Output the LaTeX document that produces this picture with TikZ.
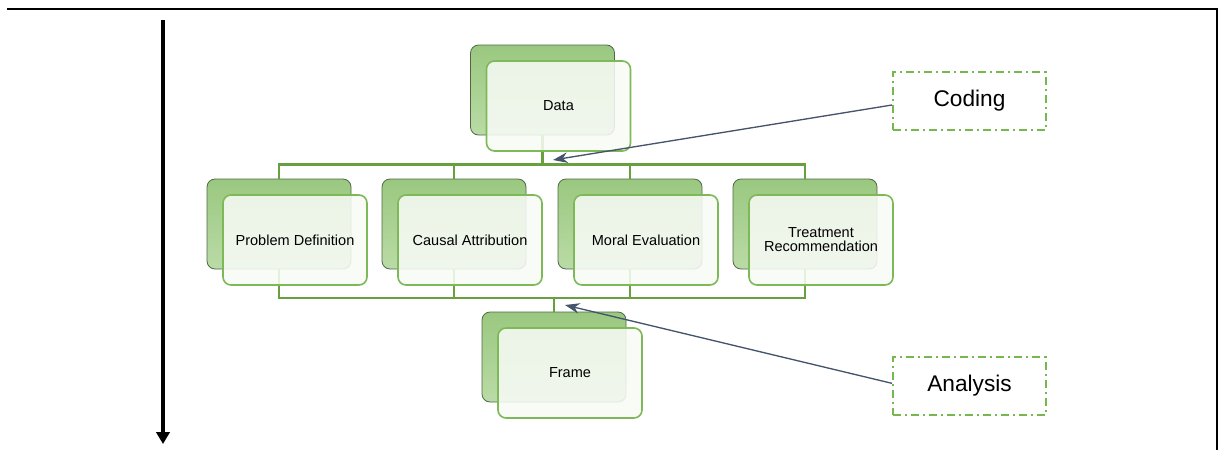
\documentclass[tikz,border=0pt]{standalone}
\usepackage{fontspec}
\setmainfont{Liberation Sans}
\usetikzlibrary{arrows.meta,shadings}
\definecolor{gline}{HTML}{68A040}
\definecolor{gfront}{HTML}{7DB956}
\definecolor{gbackA}{HTML}{9AC880}
\definecolor{gbackB}{HTML}{BADBA6}
\definecolor{gbord}{HTML}{4E6844}
\definecolor{slate}{HTML}{44546A}
\definecolor{gdash}{HTML}{77B74F}
\definecolor{frontfill}{HTML}{F7FAF5}
\tikzset{
  backbox/.style={rectangle, rounded corners=6pt, minimum width=108pt, minimum height=67.5pt,
    draw=gbord, line width=0.6pt, top color=gbackA, bottom color=gbackB, inner sep=0pt},
  frontbox/.style={rectangle, rounded corners=6pt, minimum width=108pt, minimum height=67.5pt,
    draw=gfront, line width=1.2pt, fill=frontfill, fill opacity=0.88, text opacity=1,
    font=\fontsize{10.9pt}{12pt}\selectfont, align=center, inner sep=0pt},
  conn/.style={draw=gline, line width=2.2pt},
  tagbox/.style={rectangle, draw=gdash, line width=1.5pt, dash pattern=on 6pt off 3pt on 1.5pt off 3pt,
    minimum width=114.75pt, minimum height=43pt, font=\fontsize{17pt}{20pt}\selectfont, inner sep=0pt},
  pointer/.style={draw=slate, line width=1pt, -{Stealth[length=11pt,width=8pt]}},
}
\begin{document}
\begin{tikzpicture}[x=0.75pt,y=-0.75pt]
\useasboundingbox (0,0) rectangle (1219,450);
% frame
\draw[line width=1.3pt] (7,9) -- (1217,9) -- (1217,450);
% time arrow
\coordinate (tA) at (163,20);
\coordinate (tB) at (163,444);
\draw[line width=2.6pt, -{Triangle[length=9pt,width=10pt]}] (tA) -- (tB);
% back boxes
\node[backbox] (dB) at (542.5,90) {};
\node[backbox] (pB) at (279,224) {};
\node[backbox] (cB) at (454,224) {};
\node[backbox] (mB) at (630,224) {};
\node[backbox] (tBx) at (805,224) {};
\node[backbox] (fB) at (554,357) {};
% connectors
\coordinate (busT) at (542.5,164.5);
\coordinate (busB) at (554,298);
\draw[conn] (dB.south) -- (busT);
\draw[conn] (pB.north) |- (busT) -| (tBx.north);
\draw[conn] (cB.north) -- (cB.north |- busT);
\draw[conn] (mB.north) -- (mB.north |- busT);
\draw[conn] (pB.south) |- (busB) -| (tBx.south);
\draw[conn] (cB.south) -- (cB.south |- busB);
\draw[conn] (mB.south) -- (mB.south |- busB);
\draw[conn] (fB.north) -- (busB);
% front boxes
\node[frontbox] (dF) at (558.5,106) {Data};
\node[frontbox] (pF) at (295,240) {Problem Definition};
\node[frontbox] (cF) at (470,240) {Causal Attribution};
\node[frontbox] (mF) at (646,240) {Moral Evaluation};
\node[frontbox] (tF) at (821,240) {Treatment\\[-1.5pt]Recommendation};
\node[frontbox] (fF) at (570,373) {Frame};
% tags
\node[tagbox] (coding) at (969.5,101) {Coding};
\node[tagbox] (analysis) at (969.5,386) {Analysis};
\coordinate (cTip) at (553,160);
\coordinate (aTip) at (565,305);
\draw[pointer] ([yshift=-3pt]coding.west) -- (cTip);
\draw[pointer] ([yshift=2pt]analysis.west) -- (aTip);
\end{tikzpicture}
\end{document}
